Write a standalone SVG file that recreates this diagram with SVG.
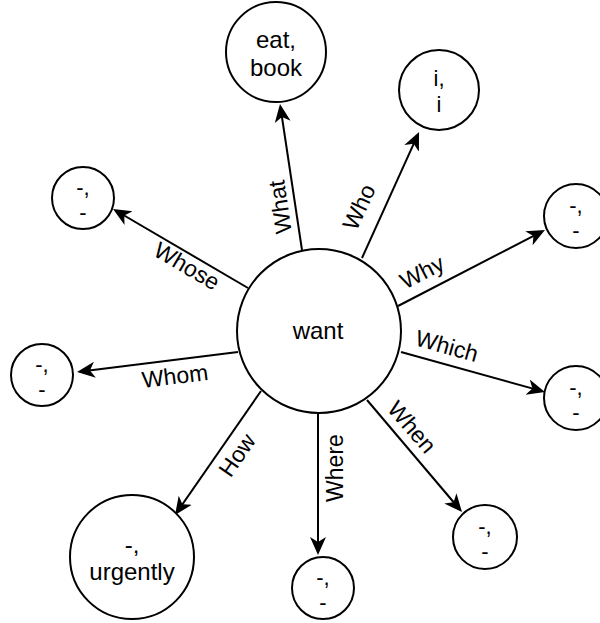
<svg xmlns="http://www.w3.org/2000/svg" width="600" height="623" viewBox="0 0 600 623">
  <style>
    .node circle { fill: #ffffff; stroke: #000000; stroke-width: 2; }
    .node text { font-family: "Liberation Sans", Arial, sans-serif; font-size: 24px; fill: #000000; text-anchor: middle; }
    .node.small text { font-size: 22px; }
    .edge line { stroke: #000000; stroke-width: 2; marker-end: url(#arrow); }
    .edge text { font-family: "Liberation Sans", Arial, sans-serif; font-size: 23px; fill: #000000; text-anchor: middle; dominant-baseline: central; }
  </style>
  <defs>
    <!-- filled block arrowhead with a notched back, shared by every connector -->
    <marker id="arrow" markerUnits="userSpaceOnUse" markerWidth="18" markerHeight="18" viewBox="0 0 18 18" refX="14" refY="9" orient="auto">
      <path d="M0,1 L18,9 L0,17 L5,9 Z" fill="#000000"/>
    </marker>
  </defs>

  <rect width="600" height="623" fill="#ffffff"/>

  <!-- connectors from the central verb to each question slot -->
  <g id="connectors" class="edge">
    <g id="e-what"><line x1="302" y1="250" x2="280.6" y2="108"/><text transform="translate(280,207) rotate(-98)">What</text></g>
    <g id="e-who"><line x1="362" y1="258" x2="417.4" y2="135.6"/><text transform="translate(359,207) rotate(-65)">Who</text></g>
    <g id="e-whose"><line x1="248" y1="288" x2="116.5" y2="211"/><text transform="translate(187,266) rotate(30.3)">Whose</text></g>
    <g id="e-whom"><line x1="238" y1="352" x2="81" y2="371.5"/><text transform="translate(175,376) rotate(-7.1)">Whom</text></g>
    <g id="e-why"><line x1="398" y1="306" x2="541.4" y2="231.8"/><text transform="translate(422,272) rotate(-27.5)">Why</text></g>
    <g id="e-which"><line x1="401" y1="352" x2="541.1" y2="390.9"/><text transform="translate(447,346) rotate(15.6)">Which</text></g>
    <g id="e-when"><line x1="367" y1="400" x2="459.4" y2="509"/><text transform="translate(412,427) rotate(49.4)">When</text></g>
    <g id="e-how"><line x1="261" y1="391" x2="177.3" y2="511.7"/><text transform="translate(237,455) rotate(-55.4)">How</text></g>
    <g id="e-where"><line x1="318" y1="413" x2="318" y2="551"/><text transform="translate(335,468) rotate(-90)">Where</text></g>
  </g>

  <!-- nodes -->
  <g id="n-want" class="node"><circle cx="319" cy="331" r="82"/><text x="318" y="339">want</text></g>
  <g id="n-what" class="node"><circle cx="276" cy="52" r="50"/><text x="276" y="48">eat,</text><text x="276" y="76">book</text></g>
  <g id="n-who" class="node small"><circle cx="439" cy="90" r="40"/><text x="439" y="86">i,</text><text x="439" y="112">i</text></g>
  <g id="n-whose" class="node small"><circle cx="83" cy="198" r="31"/><text x="83" y="195">-,</text><text x="83" y="220">-</text></g>
  <g id="n-whom" class="node small"><circle cx="42" cy="375" r="31"/><text x="42" y="372">-,</text><text x="42" y="397">-</text></g>
  <g id="n-why" class="node small"><circle cx="576" cy="216" r="32"/><text x="576" y="213">-,</text><text x="576" y="238">-</text></g>
  <g id="n-which" class="node small"><circle cx="576" cy="398" r="32"/><text x="576" y="395">-,</text><text x="576" y="420">-</text></g>
  <g id="n-when" class="node small"><circle cx="485" cy="537" r="32"/><text x="485" y="534">-,</text><text x="485" y="559">-</text></g>
  <g id="n-where" class="node small"><circle cx="323" cy="588" r="31"/><text x="323" y="585">-,</text><text x="323" y="610">-</text></g>
  <g id="n-how" class="node"><circle cx="132" cy="557" r="62"/><text x="132" y="553">-,</text><text x="132" y="580">urgently</text></g>
</svg>
